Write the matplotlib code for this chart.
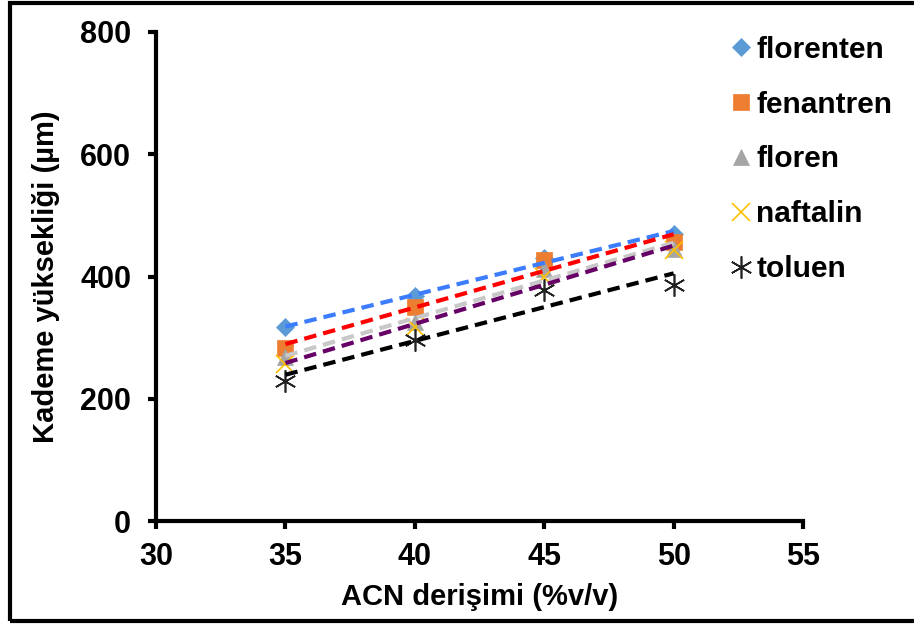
import numpy as np
import matplotlib.pyplot as plt
from matplotlib.patches import Rectangle

plt.rcParams['font.family'] = ['Liberation Sans', 'DejaVu Sans']
plt.rcParams['font.weight'] = 'bold'

# ACN concentration (%v/v) and plate height (um) per compound
acn = [35, 40, 45, 50]
florenten = [317, 368, 430, 470]
fenantren = [283, 350, 427, 457]
floren = [268, 326, 412, 445]
naftalin = [257, 318, 400, 443]
toluen = [229, 296, 378, 386]

names = ['florenten', 'fenantren', 'floren', 'naftalin', 'toluen']
series = [florenten, fenantren, floren, naftalin, toluen]
markers = ['D', 's', '^', 'x', (6, 2, 0)]
marker_colors = ['#5B9BD5', '#ED7D31', '#A5A5A5', '#FFC000', '#222222']
marker_sizes = [9, 12, 11, 13, 16]
trend_colors = ['#3C7CFF', '#FF0000', '#C8C8C8', '#660066', '#000000']

fig = plt.figure(figsize=(9.14, 6.26), dpi=100)
ax = fig.add_axes([0.1707, 0.1677, 0.7079, 0.7812])

xs = np.array(acn, dtype=float)
for name, ys, m, mc, ms, tc in zip(names, series, markers, marker_colors,
                                   marker_sizes, trend_colors):
    # linear trend line from 35 to 50
    k, b = np.polyfit(xs, ys, 1)
    ax.plot([xs[0], xs[-1]], [k * xs[0] + b, k * xs[-1] + b], color=tc,
            lw=3, dashes=(3, 1.7), zorder=3)
    thin = m == 'x' or isinstance(m, tuple)
    ax.plot(xs, ys, linestyle='none', marker=m, color=mc, ms=ms,
            mew=1.2 if thin else 0.5, mec=mc, label=name, zorder=2)

ax.set_xlim(30, 55)
ax.set_ylim(0, 800)
ax.set_xticks([30, 35, 40, 45, 50, 55])
ax.set_yticks([0, 200, 400, 600, 800])

for s in ['top', 'right']:
    ax.spines[s].set_visible(False)
for s in ['left', 'bottom']:
    ax.spines[s].set_linewidth(3)
ax.tick_params(width=3, length=6, labelsize=22, pad=9)
ax.tick_params(axis='y', pad=12)
for lbl in ax.get_xticklabels() + ax.get_yticklabels():
    lbl.set_fontweight('bold')

ax.set_xlabel('ACN derişimi (%v/v)', fontsize=21, fontweight='bold', labelpad=8)
ax.set_ylabel('Kademe yüksekliği (µm)', fontsize=21, fontweight='bold', labelpad=14)

leg = fig.legend(loc='upper left', bbox_to_anchor=(0.768, 0.986), frameon=False,
                 prop={'weight': 'bold', 'size': 21.5},
                 handlelength=0.8, handletextpad=0.12, labelspacing=0.9,
                 markerscale=1.0)

# outer frame
fig.patches.append(Rectangle((0.011, 0.008), 1.2, 0.988, transform=fig.transFigure,
                             fill=False, lw=3, ec='black'))

fig.savefig('out.png', dpi=100)
